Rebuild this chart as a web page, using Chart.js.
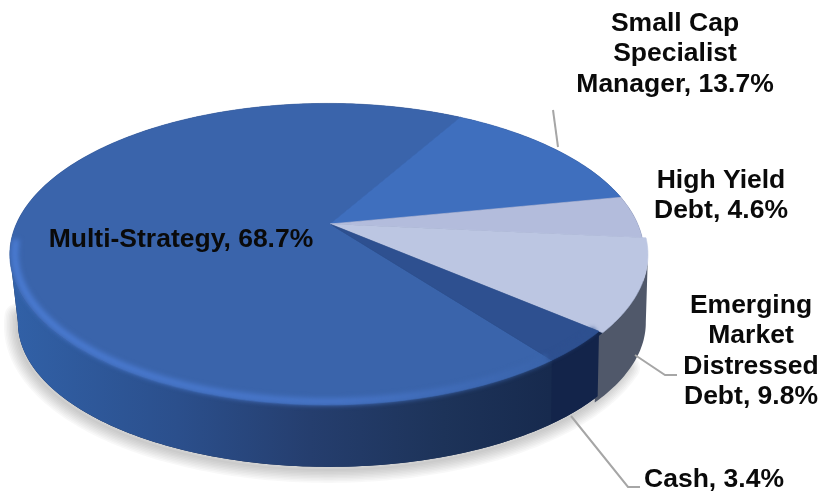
<!DOCTYPE html>
<html>
<head>
<meta charset="utf-8">
<style>
  html, body { margin: 0; padding: 0; background: #fff; }
  canvas { display: block; }
</style>
<script src="https://cdn.jsdelivr.net/npm/chart.js@4"></script>
</head>
<body>
<canvas id="grafico" width="822" height="493"></canvas>
<script>
// dados
const categorias = ['Multi-Strategy', 'Small Cap Specialist Manager', 'High Yield Debt', 'Emerging Market Distressed Debt', 'Cash'];
const valores = [68.7, 13.7, 4.6, 9.8, 3.4];
const linhasRotulo = [['Multi-Strategy, '], ['Small Cap', 'Specialist', 'Manager, '], ['High Yield', 'Debt, '], ['Emerging', 'Market', 'Distressed', 'Debt, '], ['Cash, ']];

// estilo de cada fatia
const corTopo = ['#3a64ab', '#3f6fbe', '#b3bcdc', '#bcc6e2', '#2e5090'];
const escalaFatia = [1, 1, 1, 1.012, 1];
const posRotulo = [[181, 247], [675, 31], [721, 188], [751, 313], [714, 487]];
const linhasGuia = [
  [[553, 110], [558, 147]],
  [[635, 355], [665, 375], [677, 375]],
  [[571, 416], [628, 487], [640, 487]]
];

// perspectiva do disco
const P = 0.2, Q = -0.0095, SX = 1.387, SY = 0.646;
const rad = g => g * Math.PI / 180;
const INI_PAREDE = rad(11.5), FIM_PAREDE = rad(168.5);
// o Chart.js acumula os ângulos depois de uma volta completa
const volta = a => a > Math.PI * 2 ? a - Math.PI * 2 : a;

function projetar(el, a, r) {
  const u = r * Math.cos(a), v = r * Math.sin(a);
  const w = 1 - P * v - Q * u;
  return { x: el.x + el.outerRadius * SX * u / w, y: el.y + el.outerRadius * SY * v / w };
}

// borda inferior da parede, uma elipse um pouco menor e mais abaixo
function projetarBase(el, a, r) {
  const t = projetar(el, a, r);
  return { x: el.x + (t.x - (el.x - 3)) * 0.984, y: el.y + 98 + (t.y - (el.y + 30)) * (145 / 151) };
}

function tracar(ctx, fn, el, a1, a2, r, primeiro) {
  const passos = Math.max(2, Math.ceil(Math.abs(a2 - a1) / rad(1)));
  for (let i = 0; i <= passos; i++) {
    const p = fn(el, a1 + (a2 - a1) * i / passos, r);
    if (i === 0 && primeiro) ctx.moveTo(p.x, p.y); else ctx.lineTo(p.x, p.y);
  }
}

function silhueta(ctx, el) {
  ctx.beginPath();
  tracar(ctx, projetar, el, FIM_PAREDE, INI_PAREDE + Math.PI * 2, 1, true);
  tracar(ctx, projetarBase, el, INI_PAREDE, FIM_PAREDE, 1, false);
  ctx.closePath();
}

function parede(ctx, el, a1, a2, r, cor) {
  ctx.beginPath();
  tracar(ctx, projetar, el, a1, a2, r, true);
  tracar(ctx, projetarBase, el, a2, a1, r, false);
  ctx.closePath();
  ctx.fillStyle = cor;
  ctx.fill();
}

function chanfro(ctx, el, a1, a2, r, cor, largura, desfoque) {
  ctx.save();
  silhueta(ctx, el);
  ctx.clip();
  ctx.filter = `blur(${desfoque}px)`;
  ctx.beginPath();
  tracar(ctx, projetar, el, a1, a2, r, true);
  ctx.strokeStyle = cor;
  ctx.lineWidth = largura;
  ctx.stroke();
  ctx.restore();
}

// sombra suave: traços concêntricos translúcidos ao longo da base
function sombra(ctx, el) {
  ctx.save();
  ctx.translate(-1, 3);
  ctx.lineJoin = 'round';
  ctx.lineCap = 'round';
  ctx.strokeStyle = 'rgba(0,0,0,0.028)';
  for (let largura = 26; largura >= 2; largura -= 3) {
    ctx.beginPath();
    tracar(ctx, projetarBase, el, rad(28), rad(172), 1, true);
    ctx.lineWidth = largura;
    ctx.stroke();
  }
  ctx.restore();
}

const disco3d = {
  id: 'disco3d',
  beforeDatasetDraw(chart) {
    const ctx = chart.ctx;
    const arcos = chart.getDatasetMeta(0).data;
    const el0 = arcos[0];

    sombra(ctx, el0);

    // paredes laterais; a cinza vai por baixo da escura para não deixar fresta
    const grad = ctx.createLinearGradient(18, 0, 550, 0);
    grad.addColorStop(0, '#3160a6');
    grad.addColorStop(0.3, '#2b4f8c');
    grad.addColorStop(0.55, '#253e6e');
    grad.addColorStop(0.8, '#1d3359');
    grad.addColorStop(1, '#172a4e');
    const [multi, , , em, cash] = arcos;
    const iniCash = volta(cash.startAngle), fimCash = volta(cash.endAngle);
    silhueta(ctx, el0);
    ctx.fillStyle = '#15274a';
    ctx.fill();
    parede(ctx, em, INI_PAREDE, volta(em.endAngle) + rad(2), escalaFatia[3], '#50586a');
    parede(ctx, multi, fimCash, FIM_PAREDE, 1, grad);
    parede(ctx, cash, iniCash, fimCash, 1, '#13244a');

    // faces superiores
    arcos.forEach((el, i) => {
      ctx.beginPath();
      ctx.moveTo(el.x, el.y);
      tracar(ctx, projetar, el, el.startAngle, el.endAngle, escalaFatia[i], false);
      ctx.closePath();
      ctx.fillStyle = corTopo[i];
      ctx.strokeStyle = corTopo[i];
      ctx.lineWidth = 0.6;
      ctx.fill();
      ctx.stroke();
    });

    // realce na borda frontal
    const brilho = ctx.createLinearGradient(18, 0, 550, 0);
    brilho.addColorStop(0, '#4a7bd2');
    brilho.addColorStop(0.6, '#4775c8');
    brilho.addColorStop(1, '#3a64ab');
    chanfro(ctx, el0, fimCash, rad(174), 0.985, brilho, 7, 2.5);
    chanfro(ctx, el0, iniCash, fimCash, 0.985, '#2e5090', 6, 2);
    return false;
  },
  afterDraw(chart) {
    const ctx = chart.ctx;
    ctx.save();
    ctx.strokeStyle = '#a6a6a6';
    ctx.lineWidth = 2;
    linhasGuia.forEach(linha => {
      ctx.beginPath();
      linha.forEach(([x, y], i) => i ? ctx.lineTo(x, y) : ctx.moveTo(x, y));
      ctx.stroke();
    });
    ctx.fillStyle = '#0a0a0a';
    ctx.font = 'bold 26.5px "Liberation Sans", Arial, sans-serif';
    ctx.textAlign = 'center';
    ctx.textBaseline = 'alphabetic';
    linhasRotulo.forEach((linhas, i) => {
      linhas.forEach((txt, j) => {
        const t = j === linhas.length - 1 ? txt + valores[i].toFixed(1) + '%' : txt;
        ctx.fillText(t, posRotulo[i][0], posRotulo[i][1] + j * 30.3);
      });
    });
    ctx.restore();
  }
};

new Chart(document.getElementById('grafico'), {
  type: 'pie',
  data: {
    labels: categorias,
    datasets: [{ data: valores, backgroundColor: corTopo, borderWidth: 0 }]
  },
  options: {
    responsive: false,
    animation: false,
    rotation: 142.8,
    layout: { padding: { left: 0, top: 0, right: 162, bottom: 45 } },
    plugins: { legend: { display: false }, tooltip: { enabled: false } }
  },
  plugins: [disco3d]
});
</script>
</body>
</html>
